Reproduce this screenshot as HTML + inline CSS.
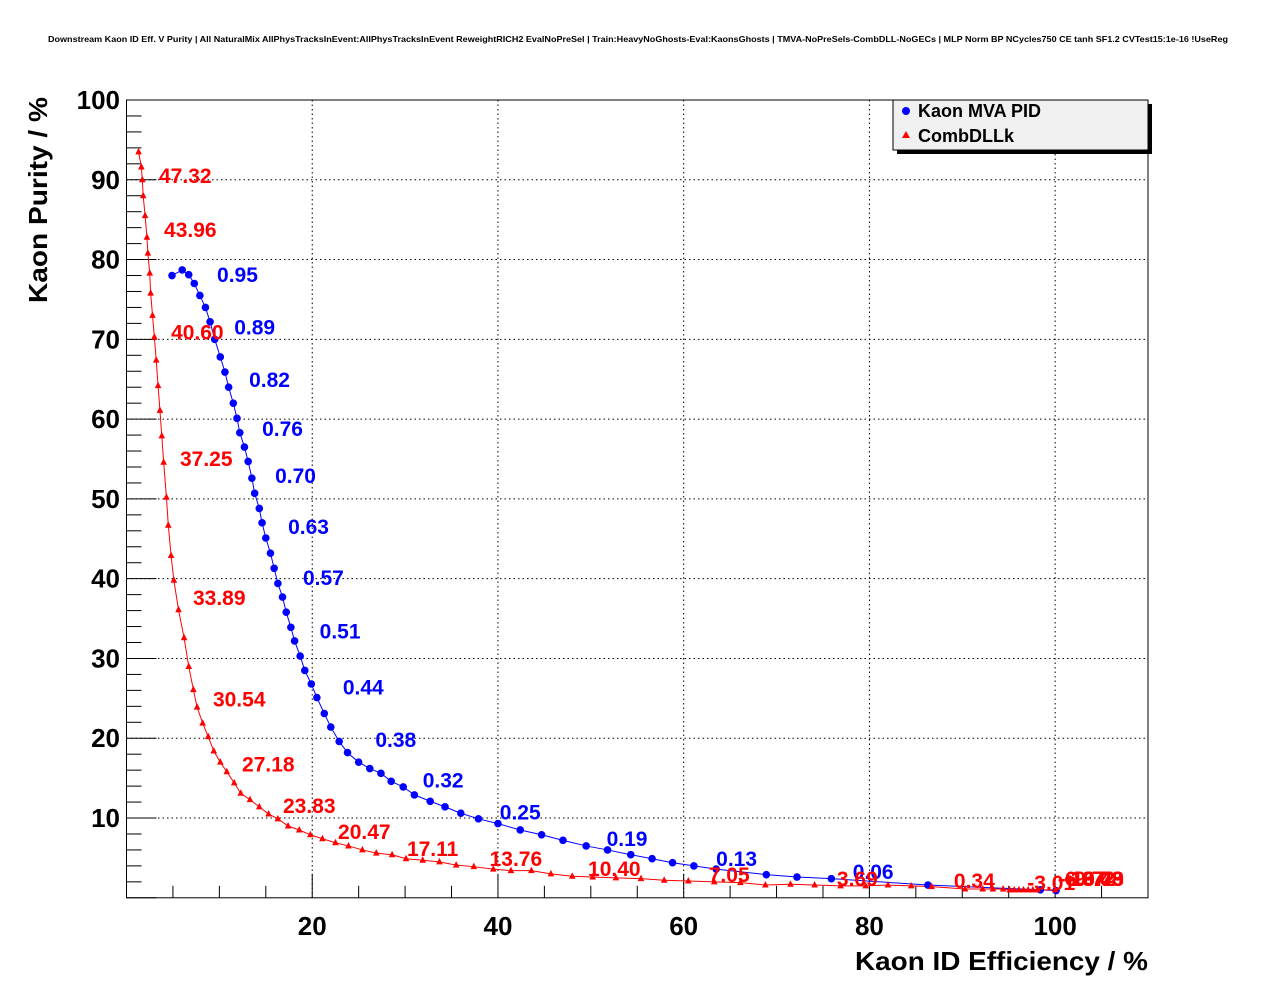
<!DOCTYPE html>
<html><head><meta charset="utf-8"><style>
body{margin:0;background:#fff;width:1276px;height:996px;overflow:hidden}
svg text{font-family:"Liberation Sans",sans-serif;font-weight:bold}
</style></head><body>
<svg id="c" width="1276" height="996" xmlns="http://www.w3.org/2000/svg">
<rect width="1276" height="996" fill="#fff"/>
<text x="48" y="42" font-size="8.5" textLength="1180" lengthAdjust="spacingAndGlyphs">Downstream Kaon ID Eff. V Purity | All NaturalMix AllPhysTracksInEvent:AllPhysTracksInEvent ReweightRICH2 EvalNoPreSel | Train:HeavyNoGhosts-Eval:KaonsGhosts | TMVA-NoPreSels-CombDLL-NoGECs | MLP Norm BP NCycles750 CE tanh SF1.2 CVTest15:1e-16 !UseReg</text>
<g id="grid"></g><g id="axes"></g><g id="series"></g><g id="labels"></g>
<text x="855" y="970" font-size="26" textLength="293" lengthAdjust="spacingAndGlyphs">Kaon ID Efficiency / %</text>
<text transform="translate(47,303) rotate(-90)" font-size="26" textLength="206" lengthAdjust="spacingAndGlyphs">Kaon Purity / %</text>
<g>
<rect x="897" y="104" width="255" height="50" fill="#000"/>
<rect x="893" y="100" width="255" height="50" fill="#f0f0f0" stroke="#000" stroke-width="1"/>
<circle cx="906" cy="111" r="4" fill="#00f"/>
<text x="918" y="117" font-size="18">Kaon MVA PID</text>
<path d="M906,131 L910,138 L902,138 Z" fill="#f00"/>
<text x="918" y="142" font-size="18">CombDLLk</text>
</g>
</svg>
<script>
const xTicks=[20,40,60,80,100];
const yTicks=[10,20,30,40,50,60,70,80,90,100];
const blueX=[4.9,6.0,6.7,7.3,7.9,8.5,9.0,9.5,10.1,10.6,11.0,11.5,11.9,12.2,12.7,13.1,13.5,13.8,14.3,14.6,15.0,15.5,15.9,16.3,16.8,17.2,17.7,18.1,18.7,19.2,19.9,20.5,21.3,22.0,22.9,23.8,25.0,26.2,27.4,28.5,29.8,31.0,32.7,34.3,36.0,37.9,40.0,42.4,44.7,47.0,49.5,51.8,54.3,56.6,58.8,61.1,63.5,68.9,72.2,75.9,86.3,98.4,100.1];
const blueY=[78.0,78.7,78.1,77.0,75.5,74.0,72.2,70.0,67.8,65.9,64.0,62.0,60.1,58.3,56.5,54.7,52.6,50.7,48.8,47.0,45.1,43.2,41.3,39.4,37.7,35.8,33.9,32.2,30.3,28.5,26.8,25.1,23.1,21.4,19.6,18.2,17.0,16.2,15.6,14.6,13.9,12.9,12.1,11.4,10.6,9.9,9.3,8.5,7.9,7.2,6.5,6.0,5.4,4.9,4.4,4.0,3.6,2.9,2.6,2.4,1.6,1.0,0.9];
const redX=[1.3,1.6,1.7,1.8,2.0,2.2,2.3,2.5,2.6,2.8,3.0,3.2,3.4,3.6,3.8,4.0,4.3,4.5,4.8,5.1,5.6,6.2,6.7,7.2,7.6,8.2,8.8,9.4,10.1,10.8,11.6,12.3,13.3,14.3,15.3,16.3,17.4,18.6,19.8,21.1,22.5,23.9,25.4,26.9,28.6,30.1,31.9,33.7,35.5,37.4,39.5,41.4,43.6,45.7,48.0,50.2,52.7,55.4,57.9,60.5,63.3,66.1,68.8,71.5,74.1,76.9,79.6,82.0,84.5,86.7,90.3,92.2,93.3,94.4,95.1,95.6,96.1,96.6,97.1,97.6,98.1,100.0];
const redY=[93.5,91.6,90.0,88.0,85.5,82.8,80.8,78.3,75.8,73.0,70.3,67.4,64.2,61.1,57.9,54.6,50.2,46.7,42.9,39.8,36.1,32.6,29.0,26.1,23.9,21.9,20.2,18.4,17.0,15.8,14.4,13.1,12.3,11.4,10.5,9.9,9.0,8.5,7.9,7.4,6.9,6.5,6.0,5.6,5.4,4.9,4.7,4.5,4.1,3.9,3.6,3.4,3.4,3.0,2.7,2.6,2.5,2.4,2.2,2.1,2.0,1.9,1.6,1.7,1.6,1.5,1.5,1.6,1.5,1.4,1.1,1.1,1.1,1.1,1.0,1.0,1.0,1.0,1.0,1.0,1.0,1.0];
const redLabels=["47.32","43.96","40.60","37.25","33.89","30.54","27.18","23.83","20.47","17.11","13.76","10.40","7.05","3.69","0.34","-3.01","-6.37","-9.72","-13.08","-16.43","-19.79"];
const redLX=[3.5,4.04,4.8,5.76,7.16,9.31,12.44,16.85,22.78,30.2,39.1,49.7,62.7,76.5,89.1,97.0,100.3,101.3,100.9,101.0,101.0];
const redLY=[89.6,82.8,70.0,54.1,36.7,24.0,15.8,10.6,7.37,5.24,4.0,2.73,2.0,1.48,1.23,0.98,1.48,1.48,1.48,1.48,1.48];
const blueLabels=["0.95","0.89","0.82","0.76","0.70","0.63","0.57","0.51","0.44","0.38","0.32","0.25","0.19","0.13","0.06"];
const blueLX=[9.75,11.6,13.2,14.6,16.0,17.4,19.0,20.8,23.3,26.8,31.9,40.2,51.7,63.5,78.2];
const blueLY=[77.2,70.6,64.0,57.9,52.0,45.6,39.2,32.5,25.5,18.9,13.8,9.83,6.49,3.98,2.35];

const L=126.5,R=1148,T=100,B=897.8,XMAX=110,YMAX=100;
const sx=v=>L+v/XMAX*(R-L), sy=v=>B-v/YMAX*(B-T);
const NS="http://www.w3.org/2000/svg";
function mk(tag,attrs,parent){const e=document.createElementNS(NS,tag);for(const k in attrs)e.setAttribute(k,attrs[k]);document.getElementById(parent).appendChild(e);return e;}
xTicks.forEach(t=>{const e=mk('line',{x1:sx(t),x2:sx(t),y1:T,y2:B,stroke:'#000','stroke-dasharray':'1.5,3','stroke-width':1},'grid');

});
yTicks.forEach(t=>{if(t>=100)return;const e=mk('line',{x1:L,x2:R,y1:sy(t),y2:sy(t),stroke:'#000','stroke-dasharray':'1.5,3','stroke-width':1},'grid');

});
const fr=mk('rect',{x:L,y:T,width:R-L,height:B-T,fill:'none',stroke:'#000','stroke-width':1},'axes');


for(let v=0;v<=XMAX;v+=5){const maj=v%20===0;const e=mk('line',{x1:sx(v),x2:sx(v),y1:B,y2:B-(maj?24:12),stroke:'#000'},'axes');

}
for(let v=0;v<=YMAX;v+=2){const maj=v%10===0;const e=mk('line',{x1:L,x2:L+(maj?30:15),y1:sy(v),y2:sy(v),stroke:'#000'},'axes');

}
xTicks.forEach(t=>{const e=mk('text',{x:sx(t),y:935,'font-size':26,'text-anchor':'middle'},'axes');e.textContent=t;

});
yTicks.forEach(t=>{const e=mk('text',{x:120,y:sy(t)+9,'font-size':26,'text-anchor':'end'},'axes');e.textContent=t;

});
const bl=mk('polyline',{points:blueX.map((x,i)=>sx(x)+','+sy(blueY[i])).join(' '),fill:'none',stroke:'#00f','stroke-width':1},'series');


const rl=mk('polyline',{points:redX.map((x,i)=>sx(x)+','+sy(redY[i])).join(' '),fill:'none',stroke:'#f00','stroke-width':1},'series');


blueX.forEach((x,i)=>{const e=mk('circle',{cx:sx(x),cy:sy(blueY[i]),r:3.8,fill:'#00f'},'series');

});
redX.forEach((x,i)=>{const cx=sx(x),cy=sy(redY[i]);const e=mk('path',{d:`M${cx},${cy-4} L${cx+3.3},${cy+2.5} L${cx-3.3},${cy+2.5} Z`,fill:'#f00'},'series');

});
blueLabels.forEach((s,i)=>{const e=mk('text',{x:sx(blueLX[i]),y:sy(blueLY[i]),'font-size':21,fill:'#00f'},'labels');e.textContent=s;

});
redLabels.forEach((s,i)=>{const e=mk('text',{x:sx(redLX[i]),y:sy(redLY[i]),'font-size':21,fill:'#f00'},'labels');e.textContent=s;

});
</script>
</body></html>
